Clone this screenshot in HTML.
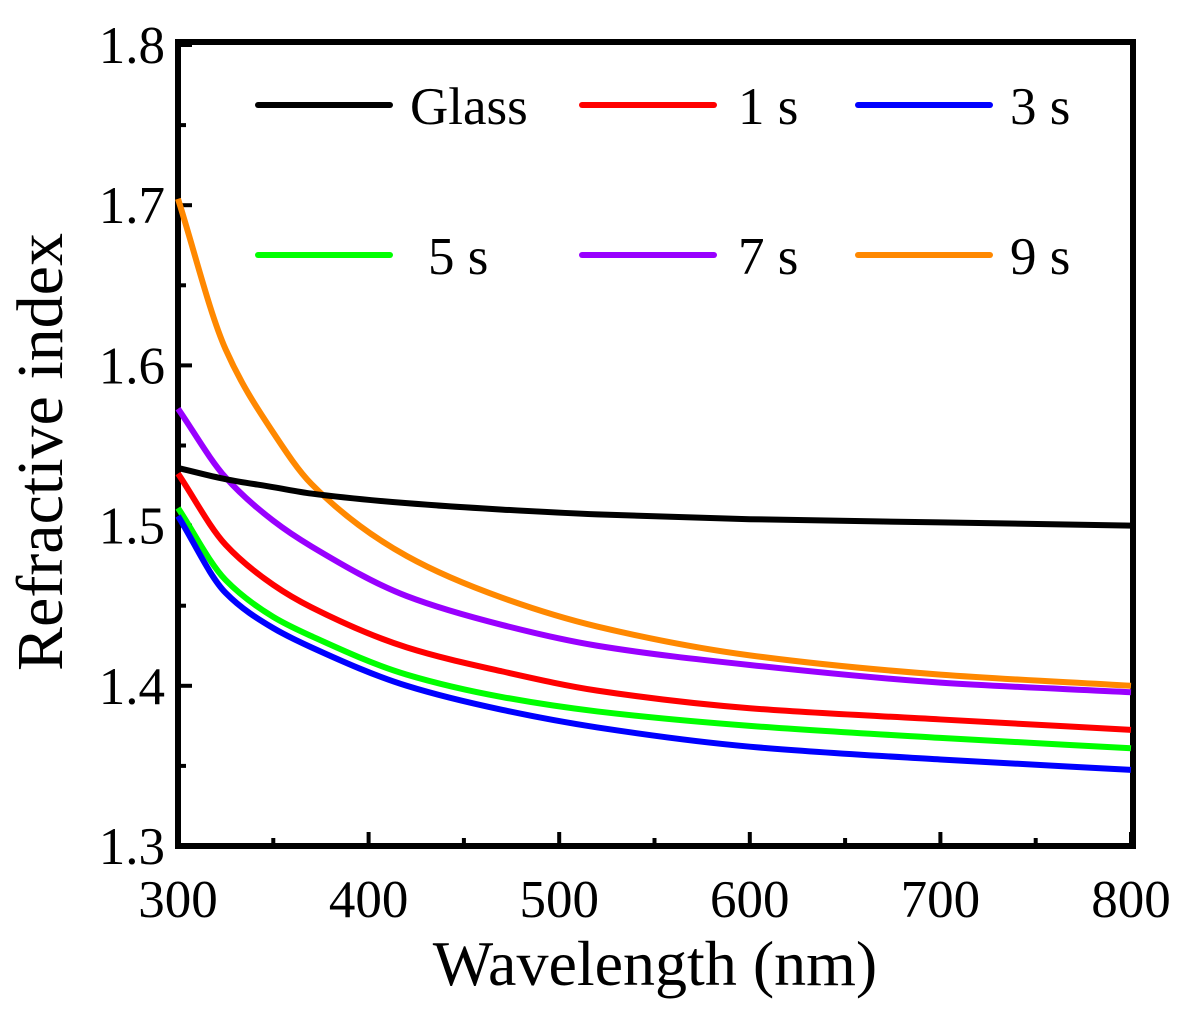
<!DOCTYPE html>
<html><head><meta charset="utf-8"><style>
html,body{margin:0;padding:0;background:#fff;}
svg{display:block;font-family:"Liberation Serif",serif;}
</style></head><body>
<svg id="chart" width="1186" height="1012" viewBox="0 0 1186 1012">
<g id="axes"></g>
<g id="series"></g>
<g id="legend"></g>
</svg>
<script>
const wavelengths = [300, 325, 350, 370, 420, 470, 520, 600, 700, 800];
const glass = [1.536, 1.529, 1.524, 1.520, 1.514, 1.510, 1.507, 1.504, 1.502, 1.500];
const s1 = [1.5325, 1.488, 1.463, 1.449, 1.424, 1.409, 1.397, 1.386, 1.379, 1.3725];
const s3 = [1.506, 1.458, 1.436, 1.424, 1.400, 1.385, 1.374, 1.362, 1.354, 1.3475];
const s5 = [1.511, 1.466, 1.443, 1.431, 1.407, 1.393, 1.384, 1.375, 1.3675, 1.361];
const s7 = [1.573, 1.530, 1.503, 1.487, 1.456, 1.438, 1.425, 1.413, 1.402, 1.396];
const s9 = [1.704, 1.610, 1.558, 1.526, 1.481, 1.455, 1.437, 1.419, 1.407, 1.400];
const xTicks = [300, 400, 500, 600, 700, 800];
const yTicks = [1.3, 1.4, 1.5, 1.6, 1.7, 1.8];
const seriesNames = ["Glass", "1 s", "3 s", "5 s", "7 s", "9 s"];

const NS = "http://www.w3.org/2000/svg";
const L = 178, R = 1131, T = 45, B = 846;
const xS = v => L + (v - 300) / 500 * (R - L);
const yS = v => B - (v - 1.3) / 0.5 * (B - T);
function mk(tag, attrs, parent) {
  const e = document.createElementNS(NS, tag);
  for (const k in attrs) e.setAttribute(k, attrs[k]);
  parent.appendChild(e);
  return e;
}
const axes = document.getElementById('axes');
const frame = mk('rect', {x: L, y: T - 3, width: R - L + 2, height: B - T + 3, fill: 'none', stroke: '#000', 'stroke-width': 6}, axes);


for (let v = 300; v <= 800; v += 50) {
  const major = v % 100 === 0;
  const t = mk('line', {x1: xS(v), x2: xS(v), y1: B, y2: B - (major ? 14 : 8), stroke: '#000', 'stroke-width': 4}, axes);
  
  
}
for (let i = 0; i <= 10; i++) {
  const v = 1.3 + i * 0.05;
  const major = i % 2 === 0;
  const t = mk('line', {x1: L, x2: L + (major ? 14 : 8), y1: yS(v), y2: yS(v), stroke: '#000', 'stroke-width': 4}, axes);
  
  
}
xTicks.forEach(v => {
  const t = mk('text', {x: xS(v), y: 917, 'font-size': 53, 'text-anchor': 'middle'}, axes);
  t.textContent = v;
  
  
});
yTicks.forEach(v => {
  const t = mk('text', {x: 165, y: yS(v) + 18, 'font-size': 53, 'text-anchor': 'end'}, axes);
  t.textContent = v.toFixed(1);
  
  
});
const xt = mk('text', {x: 655, y: 985, 'font-size': 64, 'text-anchor': 'middle'}, axes);
xt.textContent = 'Wavelength (nm)';


const yt = mk('text', {x: 0, y: 0, 'font-size': 66, 'text-anchor': 'middle', transform: 'translate(62,452) rotate(-90)'}, axes);
yt.textContent = 'Refractive index';



function pathFor(vals) {
  const p = wavelengths.map((w, i) => [xS(w), yS(vals[i])]);
  const n = p.length;
  const d = [], m = new Array(n);
  for (let i = 0; i < n - 1; i++) d.push((p[i + 1][1] - p[i][1]) / (p[i + 1][0] - p[i][0]));
  m[0] = d[0]; m[n - 1] = d[n - 2];
  for (let i = 1; i < n - 1; i++) {
    if (d[i - 1] * d[i] <= 0) { m[i] = 0; continue; }
    const h0 = p[i][0] - p[i - 1][0], h1 = p[i + 1][0] - p[i][0];
    const w1 = 2 * h1 + h0, w2 = h1 + 2 * h0;
    m[i] = (w1 + w2) / (w1 / d[i - 1] + w2 / d[i]);
  }
  let s = `M${p[0][0]},${p[0][1]}`;
  for (let i = 0; i < n - 1; i++) {
    const h = (p[i + 1][0] - p[i][0]) / 3;
    s += ` C${p[i][0] + h},${p[i][1] + m[i] * h} ${p[i + 1][0] - h},${p[i + 1][1] - m[i + 1] * h} ${p[i + 1][0]},${p[i + 1][1]}`;
  }
  return s;
}
const data = [glass, s1, s3, s5, s7, s9];
const colors = ['#000000', '#ff0000', '#0000ff', '#00ff00', '#9900ff', '#ff8800'];
const slugs = ['glass', '1s', '3s', '5s', '7s', '9s'];
const sg = document.getElementById('series');
const order = [5, 4, 0, 1, 3, 2];
order.forEach(i => {
  const pth = mk('path', {d: pathFor(data[i]), fill: 'none', stroke: colors[i], 'stroke-width': 6, 'stroke-linejoin': 'round'}, sg);
  
  
});

const lg = document.getElementById('legend');
const lx = [258, 582, 858], ly = [105, 255];
const tx = [410, 738, 1010];
seriesNames.forEach((n, i) => {
  const r = Math.floor(i / 3), c = i % 3;
  const g = mk('g', {}, lg);
  
  
  mk('line', {x1: lx[c], x2: lx[c] + 132, y1: ly[r], y2: ly[r], stroke: colors[i], 'stroke-width': 6, 'stroke-linecap': 'round'}, g);
  const t = mk('text', {x: tx[c] + (i === 3 ? 18 : 0), y: ly[r] + 19, 'font-size': 53}, g);
  t.textContent = n;
});
</script>
</body></html>
